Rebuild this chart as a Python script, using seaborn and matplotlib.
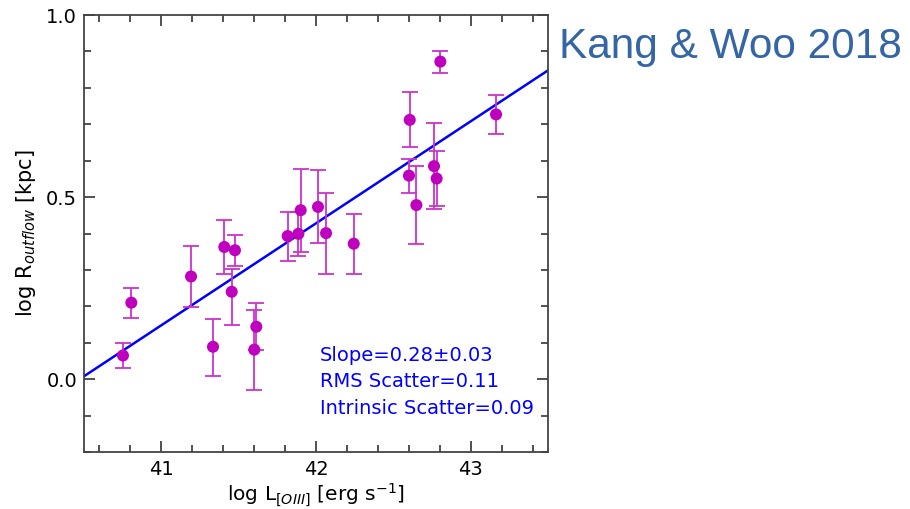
import numpy as np
import pandas as pd
import matplotlib
matplotlib.use("Agg")
import matplotlib.pyplot as plt
import seaborn as sns
from matplotlib.ticker import MultipleLocator

# ---- data ----
log_L = [40.752, 40.806, 41.192, 41.334, 41.407, 41.476, 41.455, 41.601, 41.614,
         41.817, 41.886, 41.901, 42.013, 42.065, 42.244, 42.606, 42.601, 42.649,
         42.763, 42.780, 42.804, 43.164]
log_R = [0.065, 0.210, 0.282, 0.089, 0.363, 0.354, 0.240, 0.081, 0.144,
         0.393, 0.399, 0.464, 0.473, 0.401, 0.372, 0.712, 0.559, 0.478,
         0.585, 0.551, 0.872, 0.727]
err_hi = [0.099, 0.250, 0.365, 0.165, 0.437, 0.396, 0.303, 0.191, 0.208,
          0.458, 0.460, 0.577, 0.573, 0.512, 0.454, 0.788, 0.605, 0.585,
          0.703, 0.627, 0.902, 0.780]
err_lo = [0.031, 0.168, 0.199, 0.010, 0.288, 0.311, 0.149, -0.030, 0.080,
          0.325, 0.338, 0.350, 0.373, 0.288, 0.290, 0.637, 0.510, 0.370,
          0.466, 0.475, 0.841, 0.673]
fit_slope = 0.28
fit_at_40p5 = 0.008
annot_lines = ["Slope=0.28\u00b10.03", "RMS Scatter=0.11", "Intrinsic Scatter=0.09"]
x_ticks = [41, 42, 43]
y_ticks = [0.0, 0.5, 1.0]

df = pd.DataFrame({"L": log_L, "R": log_R, "hi": err_hi, "lo": err_lo})

sns.set_style("ticks")
plt.rcParams["font.family"] = ["DejaVu Sans"]
plt.rcParams["mathtext.fontset"] = "dejavusans"
plt.rcParams["text.color"] = "black"
plt.rcParams["axes.labelcolor"] = "black"
plt.rcParams["xtick.color"] = "black"
plt.rcParams["ytick.color"] = "black"

fig = plt.figure(figsize=(9.10, 5.09), dpi=100)
ax = fig.add_axes([84 / 910, 1 - 452 / 509, (548 - 84) / 910, (452 - 15) / 509])

# fit line
xl = np.array([40.5, 43.5])
line_df = pd.DataFrame({"x": xl, "y": fit_at_40p5 + fit_slope * (xl - 40.5)})
sns.lineplot(data=line_df, x="x", y="y", ax=ax, color="#0000ff", lw=1.8, zorder=2)

# error bars
ax.errorbar(df["L"], df["R"],
            yerr=[df["R"] - df["lo"], df["hi"] - df["R"]],
            fmt="none", ecolor="#cc33cc", elinewidth=1.3, capsize=5.5,
            capthick=1.3, zorder=3)

sns.scatterplot(data=df, x="L", y="R", ax=ax, color="#bf00bf", s=75,
                edgecolor="none", zorder=4, legend=False)

ax.set_xlim(40.5, 43.5)
ax.set_ylim(-0.2, 1.0)
ax.set_xticks(x_ticks)
ax.set_yticks(y_ticks)
ax.set_yticklabels([f"{v:.1f}" for v in y_ticks])
ax.xaxis.set_minor_locator(MultipleLocator(0.2))
ax.yaxis.set_minor_locator(MultipleLocator(0.1))
ax.tick_params(which="both", direction="in", top=True, right=True,
               labelsize=14, width=1.2)
ax.tick_params(which="both", color="#333333")
ax.tick_params(which="major", length=8)
ax.tick_params(axis="x", which="major", pad=5.5)
ax.tick_params(axis="y", which="major", pad=5)
ax.tick_params(which="minor", length=5)
for s in ax.spines.values():
    s.set_color("#444444")
    s.set_linewidth(1.3)
    s.set_visible(True)

ax.set_xlabel(r"log L$_{[OIII]}$ [erg s$^{-1}$]", fontsize=14.5)
ax.xaxis.label.set_va("baseline")
ax.xaxis.set_label_coords(0.5, -(501.5 - 452) / 437)
ax.set_ylabel(r"log R$_{outflow}$ [kpc]", fontsize=15, labelpad=6)

for i, t in enumerate(annot_lines):
    ax.text(0.508, 0.209 - i * 0.0606, t, transform=ax.transAxes,
            color="#0000ff", fontsize=14, ha="left", va="baseline")

fig.text(559 / 910, 1 - 47 / 509, "Kang & Woo 2018", color="#3466a6",
         fontsize=30.5, family=["Liberation Sans", "DejaVu Sans"],
         ha="left", va="center")

fig.savefig("out.png", dpi=100)
